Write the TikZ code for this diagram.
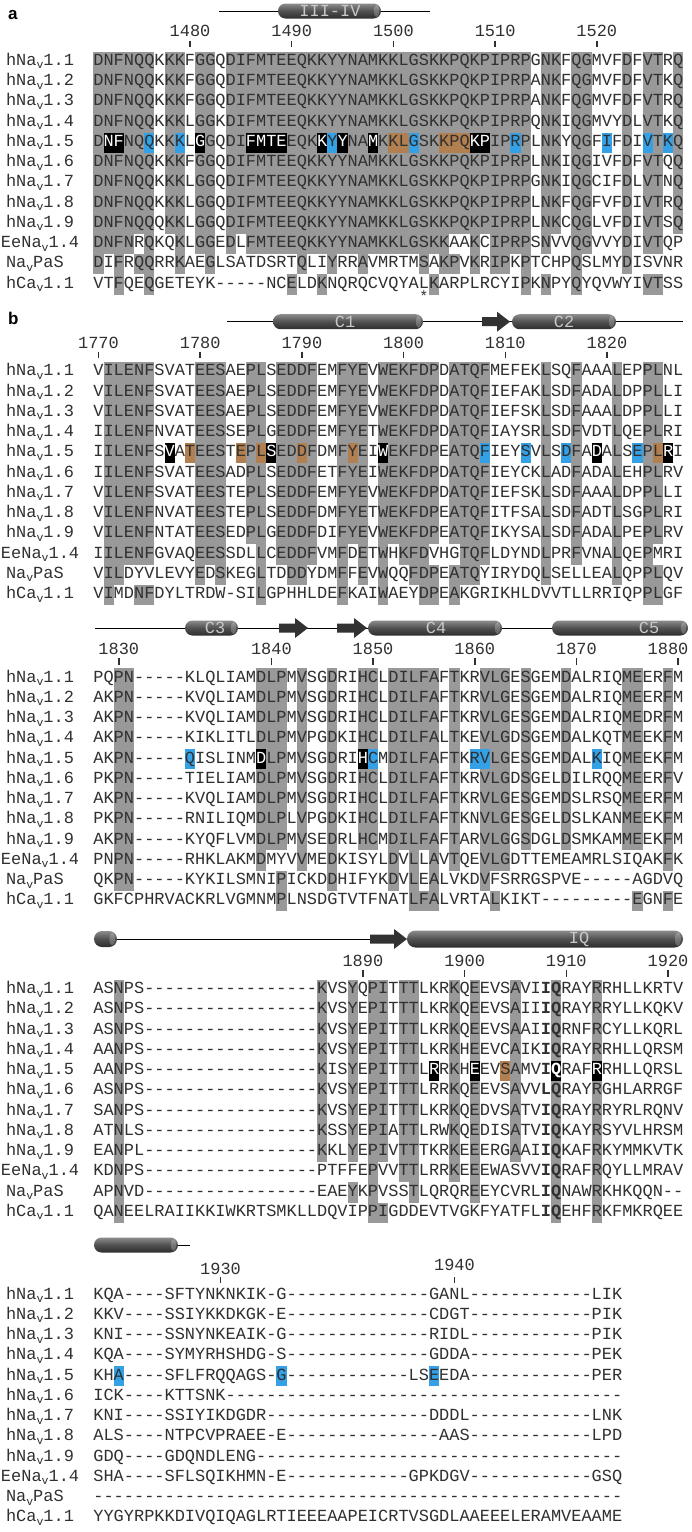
\documentclass[tikz,border=0pt]{standalone}
\usepackage{fontspec}
\setmonofont{Liberation Mono}
\setsansfont{Liberation Sans}
\definecolor{shadegray}{RGB}{153,153,153}
\definecolor{hlblue}{RGB}{52,160,230}
\definecolor{hlbrown}{RGB}{178,128,80}
\definecolor{txt}{RGB}{48,48,48}
\definecolor{cyltop}{RGB}{140,140,140}
\definecolor{cylmid}{RGB}{80,80,80}
\definecolor{cylbot}{RGB}{45,45,45}
\definecolor{cyllab}{RGB}{200,200,200}
\definecolor{arrcol}{RGB}{50,50,50}
\pgfdeclarelayer{bg}
\pgfsetlayers{bg,main}
\tikzset{
 seqtext/.style={font=\ttfamily\fontsize{16.95}{18}\selectfont, text=txt, inner sep=0pt, outer sep=0pt, anchor=base west},
 lab/.style={seqtext},
 num/.style={font=\ttfamily\fontsize{16.95}{18}\selectfont, text=txt, inner sep=0pt, anchor=base},
 tickmark/.style={draw=txt, line width=1.5pt},
 tline/.style={draw=black, line width=1pt},
 cyllabel/.style={font=\ttfamily\fontsize{16.95}{18}\selectfont, text=cyllab, inner sep=0pt},
 panel/.style={font=\sffamily\bfseries\fontsize{17}{18}\selectfont, anchor=base west, inner sep=0pt}
}
\def\xo{93.4}\def\cw{10.17}\def\ctop{13.8}\def\ch{20.25}\def\rs{20.25}
\newcommand\CellOne[3]{\fill[#3] ({\xo+(#1-1)*\cw},{#2-\ctop}) rectangle ++(\cw,\ch);}
\newcommand\HL[3]{\begin{pgfonlayer}{bg}\foreach \hcol in {#2}{\fill[#3] ({\xo+\hcol*\cw},{#1-\ctop}) rectangle ++(\cw,\ch);}\end{pgfonlayer}}
\newcommand\SeqNode[2]{\node[seqtext] at (\xo,{#1}) {#2};}
\ExplSyntaxOn
\cs_new:Npn \Dsh #1 { \prg_replicate:nn {#1} {-} }
\cs_new_protected:Npn \my_shade:nnn #1#2#3
  {
    \int_step_inline:nn { \str_count:n {#2} }
      {
        \str_if_eq:eeT { \str_item:nn {#2} {##1} } { \str_item:nn {#3} {##1} }
          { \CellOne {##1} {#1} {shadegray} }
      }
  }
\cs_generate_variant:Nn \my_shade:nnn { nee }
\NewDocumentCommand \ShadeRow { m m m }
  { \begin{pgfonlayer}{bg} \my_shade:nee {#1} {#2} {#3} \end{pgfonlayer} }
\tl_new:N \l_my_row_tl
\tl_new:N \l_my_ch_tl
\tl_new:N \l_my_idx_tl
\cs_new_protected:Npn \my_rowtxt:nnnn #1#2#3#4
  {
    \tl_clear:N \l_my_row_tl
    \int_step_inline:nn { \str_count:n {#2} }
      {
        \tl_set:Nx \l_my_ch_tl { \str_item:nn {#2} {##1} }
        \tl_set:Nx \l_my_idx_tl { \int_eval:n { ##1 - 1 } }
        \clist_if_in:nVT {#3} \l_my_idx_tl
          { \tl_set:Nx \l_my_ch_tl { \exp_not:N \textcolor {white} { \exp_not:V \l_my_ch_tl } } }
        \int_compare:nNnT {#4} > {0}
          {
            \bool_if:nT { \int_compare_p:nNn {##1} > {#4 - 1} && \int_compare_p:nNn {##1} < {#4 + 2} }
              { \tl_set:Nx \l_my_ch_tl { \exp_not:N \textbf { \exp_not:V \l_my_ch_tl } } }
          }
        \tl_put_right:NV \l_my_row_tl \l_my_ch_tl
      }
    \exp_args:NnV \SeqNode {#1} \l_my_row_tl
  }
\cs_generate_variant:Nn \my_rowtxt:nnnn { nenn }
\NewDocumentCommand \SeqTxt { m m m m } { \my_rowtxt:nenn {#1} {#2} {#3} {#4} }
\ExplSyntaxOff
\newcommand\vsub[1]{\raisebox{-3.5pt}{\fontsize{11.5}{12}\selectfont #1}}
\newcommand\hN[1]{hNa\vsub{v}#1}
\newcommand\EeL{EeNa\vsub{v}1.4}
\newcommand\PaSL{Na\vsub{v}PaS}
\newcommand\hCaL{hCa\vsub{v}1.1}
% #1 label x, #2 label, #3 baseline, #4 seq, #5 consensus, #6 bold start (1-based, 0 none), #7 white-text columns (0-based)
\newcommand\Row[7]{\ShadeRow{#3}{#4}{#5}\node[lab] at (#1,{#3}) {#2};\SeqTxt{#3}{#4}{#7}{#6}}
\newcommand\Tick[5]{\node[num] at ({\xo+(#1+0.5)*\cw},#3) {#2};\draw[tickmark] ({\xo+(#1+0.5)*\cw},#4) -- ++(0,#5);}
\newcommand\Cyl[4]{\shade[top color=cyltop, bottom color=cylbot, middle color=cylmid, rounded corners=#4pt] (#1,{#3-#4}) rectangle (#2,{#3+#4});
  \fill[white, opacity=0.22] ({#2-#4*0.6},#3) ellipse ({#4*0.35} and {#4*0.8});}
\newcommand\Arr[3]{\fill[arrcol] (#1,{#3-4.5}) -- ({#2-13},{#3-4.5}) -- ({#2-13},{#3-10}) -- (#2,#3) -- ({#2-13},{#3+10}) -- ({#2-13},{#3+4.5}) -- (#1,{#3+4.5}) -- cycle;}
% ---------------- sequences
\def\SAa{DNFNQQKKKFGGQDIFMTEEQKKYYNAMKKLGSKKPQKPIPRPGNKFQGMVFDFVTRQ}
\def\SAb{DNFNQQKKKFGGQDIFMTEEQKKYYNAMKKLGSKKPQKPIPRPANKFQGMVFDFVTKQ}
\def\SAc{DNFNQQKKKFGGQDIFMTEEQKKYYNAMKKLGSKKPQKPIPRPANKFQGMVFDFVTRQ}
\def\SAd{DNFNQQKKKLGGKDIFMTEEQKKYYNAMKKLGSKKPQKPIPRPQNKIQGMVYDLVTKQ}
\def\SAe{DNFNQQKKKLGGQDIFMTEEQKKYYNAMKKLGSKKPQKPIPRPLNKYQGFIFDIVTKQ}
\def\SAf{DNFNQQKKKFGGQDIFMTEEQKKYYNAMKKLGSKKPQKPIPRPLNKIQGIVFDFVTQQ}
\def\SAg{DNFNQQKKKLGGQDIFMTEEQKKYYNAMKKLGSKKPQKPIPRPGNKIQGCIFDLVTNQ}
\def\SAh{DNFNQQKKKLGGQDIFMTEEQKKYYNAMKKLGSKKPQKPIPRPLNKFQGFVFDIVTRQ}
\def\SAi{DNFNQQQKKLGGQDIFMTEEQKKYYNAMKKLGSKKPQKPIPRPLNKCQGLVFDIVTSQ}
\def\SAj{DNFNRQKQKLGGEDLFMTEEQKKYYNAMKKLGSKKAAKCIPRPSNVVQGVVYDIVTQP}
\def\SAk{DIFRQQRRKAEGLSATDSRTQLIYRRAVMRTMSAKPVKRIPKPTCHPQSLMYDISVNR}
\def\SAl{VTFQEQGETEYK\Dsh{5}NCELDKNQRQCVQYALKARPLRCYIPKNPYQYQVWYIVTSS}
\def\CA{DNFNQQ.KK.GG.DIFMTEEQKKYYNAMKKLGSKKPQKPIPRP.NK.QG...D.VT.Q}
\def\SBa{VILENFSVATEESAEPLSEDDFEMFYEVWEKFDPDATQFMEFEKLSQFAAALEPPLNL}
\def\SBb{VILENFSVATEESAEPLSEDDFEMFYEVWEKFDPDATQFIEFAKLSDFADALDPPLLI}
\def\SBc{VILENFSVATEESAEPLSEDDFEMFYEVWEKFDPDATQFIEFSKLSDFAAALDPPLLI}
\def\SBd{IILENFNVATEESSEPLGEDDFEMFYETWEKFDPDATQFIAYSRLSDFVDTLQEPLRI}
\def\SBe{IILENFSVATEESTEPLSEDDFDMFYEIWEKFDPEATQFIEYSVLSDFADALSEPLRI}
\def\SBf{IILENFSVATEESADPLSEDDFETFYEIWEKFDPDATQFIEYCKLADFADALEHPLRV}
\def\SBg{VILENFSVATEESTEPLSEDDFEMFYEVWEKFDPDATQFIEFSKLSDFAAALDPPLLI}
\def\SBh{VILENFNVATEESTEPLSEDDFDMFYETWEKFDPEATQFITFSALSDFADTLSGPLRI}
\def\SBi{VILENFNTATEESEDPLGEDDFDIFYEVWEKFDPEATQFIKYSALSDFADALPEPLRV}
\def\SBj{IILENFGVAQEESSDLLCEDDFVMFDETWHKFDVHGTQFLDYNDLPRFVNALQEPMRI}
\def\SBk{VILDYVLEVYEDSKEGLTDDDYDMFFEVWQQFDPEATQYIRYDQLSELLEALQPPLQV}
\def\SBl{VIMDNFDYLTRDW-SILGPHHLDEFKAIWAEYDPEAKGRIKHLDVVTLLRRIQPPLGF}
\def\CB{.ILENF....EES..PL.EDDF..FYE.WEKFDP.ATQF.....L..F...L..PL..}
\def\SCa{PQPN\Dsh{5}KLQLIAMDLPMVSGDRIHCLDILFAFTKRVLGESGEMDALRIQMEERFM}
\def\SCb{AKPN\Dsh{5}KVQLIAMDLPMVSGDRIHCLDILFAFTKRVLGESGEMDALRIQMEERFM}
\def\SCc{AKPN\Dsh{5}KVQLIAMDLPMVSGDRIHCLDILFAFTKRVLGESGEMDALRIQMEDRFM}
\def\SCd{AKPN\Dsh{5}KIKLITLDLPMVPGDKIHCLDILFALTKEVLGDSGEMDALKQTMEEKFM}
\def\SCe{AKPN\Dsh{5}QISLINMDLPMVSGDRIHCMDILFAFTKRVLGESGEMDALKIQMEEKFM}
\def\SCf{PKPN\Dsh{5}TIELIAMDLPMVSGDRIHCLDILFAFTKRVLGDSGELDILRQQMEERFV}
\def\SCg{AKPN\Dsh{5}KVQLIAMDLPMVSGDRIHCLDILFAFTKRVLGESGEMDSLRSQMEERFM}
\def\SCh{PKPN\Dsh{5}RNILIQMDLPLVPGDKIHCLDILFAFTKNVLGESGELDSLKANMEEKFM}
\def\SCi{AKPN\Dsh{5}KYQFLVMDLPMVSEDRLHCMDILFAFTARVLGGSDGLDSMKAMMEEKFM}
\def\SCj{PNPN\Dsh{5}RHKLAKMDMYVVMEDKISYLDVLLAVTQEVLGDTTEMEAMRLSIQAKFK}
\def\SCk{QKPN\Dsh{5}KYKILSMNIPICKDDHIFYKDVLEALVKDVFSRRGSPVE\Dsh{5}AGDVQ}
\def\SCl{GKFCPHRVACKRLVGMNMPLNSDGTVTFNATLFALVRTALKIKT\Dsh{9}EGNFE}
\def\CC{..PN............DLP.V..D..HC.DILFA.T..VLG.S...D.....ME..F.}
\def\SDa{ASNPS\Dsh{17}KVSYQPITTTLKRKQEEVSAVIIQRAYRRHLLKRTV}
\def\SDb{ASNPS\Dsh{17}KVSYEPITTTLKRKQEEVSAIIIQRAYRRYLLKQKV}
\def\SDc{ASNPS\Dsh{17}KVSYEPITTTLKRKQEEVSAAIIQRNFRCYLLKQRL}
\def\SDd{AANPS\Dsh{17}KVSYEPITTTLKRKHEEVCAIKIQRAYRRHLLQRSM}
\def\SDe{AANPS\Dsh{17}KISYEPITTTLRRKHEEVSAMVIQRAFRRHLLQRSL}
\def\SDf{ASNPS\Dsh{17}KVSYEPITTTLRRKQEEVSAVVLQRAYRGHLARRGF}
\def\SDg{SANPS\Dsh{17}KVSYEPITTTLKRKQEDVSATVIQRAYRRYRLRQNV}
\def\SDh{ATNLS\Dsh{17}KSSYEPIATTLRWKQEDISATVIQKAYRSYVLHRSM}
\def\SDi{EANPL\Dsh{17}KKLYEPIVTTTKRKEEERGAAIIQKAFRKYMMKVTK}
\def\SDj{KDNPS\Dsh{17}PTFFEPVVTTLRRKEEEWASVVIQRAFRQYLLMRAV}
\def\SDk{APNVD\Dsh{17}EAEYKPVSSTLQRQREEYCVRLIQNAWRKHKQQN--}
\def\SDl{QANEELRAIIKKIWKRTSMKLLDQVIPPIGDDEVTVGKFYATFLIQEHFRKFMKRQEE}
\def\CD{..N...................K..Y.PI.TT...K.E...A...Q...R........}
\def\SEa{KQA\Dsh{4}SFTYNKNKIK-G\Dsh{14}GANL\Dsh{12}LIK}
\def\SEb{KKV\Dsh{4}SSIYKKDKGK-E\Dsh{14}CDGT\Dsh{12}PIK}
\def\SEc{KNI\Dsh{4}SSNYNKEAIK-G\Dsh{14}RIDL\Dsh{12}PIK}
\def\SEd{KQA\Dsh{4}SYMYRHSHDG-S\Dsh{14}GDDA\Dsh{12}PEK}
\def\SEe{KHA\Dsh{4}SFLFRQQAGS-G\Dsh{12}LSEEDA\Dsh{12}PER}
\def\SEf{ICK\Dsh{4}KTTSNK\Dsh{39}}
\def\SEg{KNI\Dsh{4}SSIYIKDGDR\Dsh{16}DDDL\Dsh{12}LNK}
\def\SEh{ALS\Dsh{4}NTPCVPRAEE-E\Dsh{15}AAS\Dsh{12}LPD}
\def\SEi{GDQ\Dsh{4}GDQNDLENG\Dsh{36}}
\def\SEj{SHA\Dsh{4}SFLSQIKHMN-E\Dsh{12}GPKDGV\Dsh{12}GSQ}
\def\SEk{\Dsh{52}}
\def\SEl{YYGYRPKKDIVQIQAGLRTIEEEAAPEICRTVSGDLAAEEELERAMVEAAME}
\begin{document}
\begin{tikzpicture}[x=1pt,y=-1pt]
\useasboundingbox (0,0) rectangle (692,1532);
\begin{pgfonlayer}{bg}\fill[white] (0,0) rectangle (692,1532);\end{pgfonlayer}
% ================= panel a
\node[panel] (pa) at (8,19) {a};
\draw[tline] (219,11) -- (430,11);
\Cyl{278}{381}{11}{7.5}
\node[cyllabel] (t34) at (330,11) {III-IV};
\Tick{9}{1480}{36.7}{40.5}{6.5}
\Tick{19}{1490}{36.7}{40.5}{6.5}
\Tick{29}{1500}{36.7}{40.5}{6.5}
\Tick{39}{1510}{36.7}{40.5}{6.5}
\Tick{49}{1520}{36.7}{40.5}{6.5}
\def\ya{65.3}
\Row{6}{\hN{1.1}}{\ya}{\SAa}{\CA}{0}{}
\Row{6}{\hN{1.2}}{\ya+\rs}{\SAb}{\CA}{0}{}
\Row{6}{\hN{1.3}}{\ya+2*\rs}{\SAc}{\CA}{0}{}
\Row{6}{\hN{1.4}}{\ya+3*\rs}{\SAd}{\CA}{0}{}
\Row{6}{\hN{1.5}}{\ya+4*\rs}{\SAe}{\CA}{0}{1,2,10,15,16,17,18,22,24,27,37,38}
\Row{6}{\hN{1.6}}{\ya+5*\rs}{\SAf}{\CA}{0}{}
\Row{6}{\hN{1.7}}{\ya+6*\rs}{\SAg}{\CA}{0}{}
\Row{6}{\hN{1.8}}{\ya+7*\rs}{\SAh}{\CA}{0}{}
\Row{6}{\hN{1.9}}{\ya+8*\rs}{\SAi}{\CA}{0}{}
\Row{1}{\EeL}{\ya+9*\rs}{\SAj}{\CA}{0}{}
\Row{6}{\PaSL}{\ya+10*\rs}{\SAk}{\CA}{0}{}
\Row{6}{\hCaL}{\ya+11*\rs}{\SAl}{\CA}{0}{}
\HL{\ya+4*\rs}{1,2,10,15,16,17,18,22,24,27,37,38}{black}
\HL{\ya+4*\rs}{5,8,23,31,41,50,54,56}{hlblue}
\HL{\ya+4*\rs}{29,30,34,35,36}{hlbrown}
\node[font=\ttfamily\fontsize{15}{15}\selectfont, text=txt, anchor=base, inner sep=0pt] (ast) at ({\xo+32.5*\cw},301) {*};
% ================= panel b, block 1
\node[panel] (pb) at (8,324) {b};
\draw[tline] (227,321.7) -- (683,321.7);
\Cyl{273}{423}{321.7}{7.5}
\Arr{482}{510}{321.7}
\Cyl{512}{616}{321.7}{7.5}
\node[cyllabel] (c1) at (345,321.7) {C1};
\node[cyllabel] (c2) at (564,321.7) {C2};
\Tick{0}{1770}{348.3}{351.7}{6.5}
\Tick{10}{1780}{348.3}{351.7}{6.5}
\Tick{20}{1790}{348.3}{351.7}{6.5}
\Tick{30}{1800}{348.3}{351.7}{6.5}
\Tick{40}{1810}{348.3}{351.7}{6.5}
\Tick{50}{1820}{348.3}{351.7}{6.5}
\def\yb{375.8}
\Row{6}{\hN{1.1}}{\yb}{\SBa}{\CB}{0}{}
\Row{6}{\hN{1.2}}{\yb+\rs}{\SBb}{\CB}{0}{}
\Row{6}{\hN{1.3}}{\yb+2*\rs}{\SBc}{\CB}{0}{}
\Row{6}{\hN{1.4}}{\yb+3*\rs}{\SBd}{\CB}{0}{}
\Row{6}{\hN{1.5}}{\yb+4*\rs}{\SBe}{\CB}{0}{7,17,28,49,56}
\Row{6}{\hN{1.6}}{\yb+5*\rs}{\SBf}{\CB}{0}{}
\Row{6}{\hN{1.7}}{\yb+6*\rs}{\SBg}{\CB}{0}{}
\Row{6}{\hN{1.8}}{\yb+7*\rs}{\SBh}{\CB}{0}{}
\Row{6}{\hN{1.9}}{\yb+8*\rs}{\SBi}{\CB}{0}{}
\Row{1}{\EeL}{\yb+9*\rs}{\SBj}{\CB}{0}{}
\Row{6}{\PaSL}{\yb+10*\rs}{\SBk}{\CB}{0}{}
\Row{6}{\hCaL}{\yb+11*\rs}{\SBl}{\CB}{0}{}
\HL{\yb+4*\rs}{7,17,28,49,56}{black}
\HL{\yb+4*\rs}{38,42,46,53}{hlblue}
\HL{\yb+4*\rs}{9,14,16,20,25,55}{hlbrown}
% ================= block 2
\draw[tline] (95,628) -- (687,628);
\Cyl{185}{238}{628}{7.5}
\Arr{279}{308}{628}
\Arr{337}{367}{628}
\Cyl{368}{502}{628}{7.5}
\Cyl{552}{688}{628}{7.5}
\node[cyllabel] (c3) at (215,628) {C3};
\node[cyllabel] (c4) at (436,628) {C4};
\node[cyllabel] (c5) at (649,628) {C5};
\Tick{2}{1830}{654.3}{658}{7}
\Tick{17}{1840}{654.3}{658}{7}
\Tick{27}{1850}{654.3}{658}{7}
\Tick{37}{1860}{654.3}{658}{7}
\Tick{47}{1870}{654.3}{658}{7}
\node[num] (n1880) at (668,654.3) {1880};
\draw[tickmark] ({\xo+57.5*\cw},658) -- ++(0,7);
\def\yc{682}
\Row{6}{\hN{1.1}}{\yc}{\SCa}{\CC}{0}{}
\Row{6}{\hN{1.2}}{\yc+\rs}{\SCb}{\CC}{0}{}
\Row{6}{\hN{1.3}}{\yc+2*\rs}{\SCc}{\CC}{0}{}
\Row{6}{\hN{1.4}}{\yc+3*\rs}{\SCd}{\CC}{0}{}
\Row{6}{\hN{1.5}}{\yc+4*\rs}{\SCe}{\CC}{0}{16,26}
\Row{6}{\hN{1.6}}{\yc+5*\rs}{\SCf}{\CC}{0}{}
\Row{6}{\hN{1.7}}{\yc+6*\rs}{\SCg}{\CC}{0}{}
\Row{6}{\hN{1.8}}{\yc+7*\rs}{\SCh}{\CC}{0}{}
\Row{6}{\hN{1.9}}{\yc+8*\rs}{\SCi}{\CC}{0}{}
\Row{1}{\EeL}{\yc+9*\rs}{\SCj}{\CC}{0}{}
\Row{6}{\PaSL}{\yc+10*\rs}{\SCk}{\CC}{0}{}
\Row{6}{\hCaL}{\yc+11*\rs}{\SCl}{\CC}{0}{}
\HL{\yc+4*\rs}{16,26}{black}
\HL{\yc+4*\rs}{9,27,37,38,49}{hlblue}
% ================= block 3
\Cyl{94}{117}{939}{8}
\draw[tline] (117,939) -- (372,939);
\Arr{370}{407}{939}
\Cyl{407}{683}{939}{8.5}
\node[cyllabel] (iq) at (579,939) {IQ};
\Tick{26}{1890}{966}{970}{6.5}
\Tick{36}{1900}{966}{970}{6.5}
\Tick{46}{1910}{966}{970}{6.5}
\Tick{56}{1920}{966}{970}{6.5}
\def\yd{993.6}
\Row{6}{\hN{1.1}}{\yd}{\SDa}{\CD}{45}{}
\Row{6}{\hN{1.2}}{\yd+\rs}{\SDb}{\CD}{45}{}
\Row{6}{\hN{1.3}}{\yd+2*\rs}{\SDc}{\CD}{45}{}
\Row{6}{\hN{1.4}}{\yd+3*\rs}{\SDd}{\CD}{45}{}
\Row{6}{\hN{1.5}}{\yd+4*\rs}{\SDe}{\CD}{45}{33,37,45,49}
\Row{6}{\hN{1.6}}{\yd+5*\rs}{\SDf}{\CD}{45}{}
\Row{6}{\hN{1.7}}{\yd+6*\rs}{\SDg}{\CD}{45}{}
\Row{6}{\hN{1.8}}{\yd+7*\rs}{\SDh}{\CD}{45}{}
\Row{6}{\hN{1.9}}{\yd+8*\rs}{\SDi}{\CD}{45}{}
\Row{1}{\EeL}{\yd+9*\rs}{\SDj}{\CD}{45}{}
\Row{6}{\PaSL}{\yd+10*\rs}{\SDk}{\CD}{45}{}
\Row{6}{\hCaL}{\yd+11*\rs}{\SDl}{\CD}{45}{}
\HL{\yd+4*\rs}{33,37,45,49}{black}
\HL{\yd+4*\rs}{40}{hlbrown}
% ================= block 4
\Cyl{94}{178}{1245}{7.5}
\draw[tline] (178,1245) -- (190,1245);
\Tick{12}{1930}{1274}{1277}{6}
\node[num] (n1940) at ({\xo+35.5*\cw},1270) {1940};
\draw[tickmark] ({\xo+35.5*\cw},1277) -- ++(0,6);
\def\ye{1299}
\Row{6}{\hN{1.1}}{\ye}{\SEa}{}{0}{}
\Row{6}{\hN{1.2}}{\ye+\rs}{\SEb}{}{0}{}
\Row{6}{\hN{1.3}}{\ye+2*\rs}{\SEc}{}{0}{}
\Row{6}{\hN{1.4}}{\ye+3*\rs}{\SEd}{}{0}{}
\Row{6}{\hN{1.5}}{\ye+4*\rs}{\SEe}{}{0}{}
\Row{6}{\hN{1.6}}{\ye+5*\rs}{\SEf}{}{0}{}
\Row{6}{\hN{1.7}}{\ye+6*\rs}{\SEg}{}{0}{}
\Row{6}{\hN{1.8}}{\ye+7*\rs}{\SEh}{}{0}{}
\Row{6}{\hN{1.9}}{\ye+8*\rs}{\SEi}{}{0}{}
\Row{1}{\EeL}{\ye+9*\rs}{\SEj}{}{0}{}
\Row{6}{\PaSL}{\ye+10*\rs}{\SEk}{}{0}{}
\Row{6}{\hCaL}{\ye+11*\rs}{\SEl}{}{0}{}
\HL{\ye+4*\rs}{2,18,33}{hlblue}
\end{tikzpicture}
\end{document}
